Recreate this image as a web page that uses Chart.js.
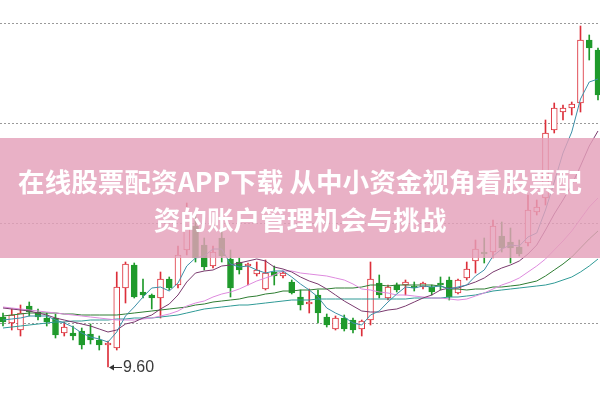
<!DOCTYPE html>
<html><head><meta charset="utf-8">
<script src="https://cdn.jsdelivr.net/npm/chart.js@4/dist/chart.umd.min.js"></script>
<style>
html,body{margin:0;padding:0;background:#fff;}
#wrap{position:relative;width:600px;height:399px;overflow:hidden;}
#banner{position:absolute;left:0;top:138px;width:600px;height:120px;background:rgba(228,160,186,0.82);
 display:flex;align-items:center;justify-content:center;text-align:center;color:#fff;
 font-family:"Noto Sans CJK SC","Noto Sans",sans-serif;font-weight:bold;font-size:26.6px;line-height:38px;white-space:nowrap;padding-top:4px;box-sizing:border-box;}
</style></head><body>
<div id="wrap"><canvas id="c"></canvas>
<div id="banner"><div>在线股票配资APP下载 从中小资金视角看股票配<br>资的账户管理机会与挑战</div></div></div>
<script>
const open = [10.10,10.04,9.97,10.21,10.15,10.09,10.09,9.94,9.94,9.96, 9.93,9.87,9.82,9.79,10.39,10.62,10.35,10.32,10.29,10.48, 10.42,10.77,11.01,10.82,10.61,10.89,10.68,10.65,10.61,10.53, 10.38,10.55,10.51,10.45,10.30,10.23,10.32,10.10,9.98,10.09, 10.07,9.98,10.07,10.44,10.29,10.42,10.42,10.41,10.40,10.40, 10.44,10.47,10.34,10.49,10.66,10.75,10.75,10.91,10.85,10.80, 10.84,11.15,11.29,11.97,12.15,12.19,12.24,12.87,12.77];
const close = [10.05,10.12,10.14,10.15,10.10,10.05,9.92,10.00,9.91,9.82, 9.87,9.82,9.84,10.40,10.63,10.30,10.32,10.29,10.48,10.39, 10.72,11.15,10.69,10.60,10.75,10.71,10.39,10.57,10.63,10.57, 10.54,10.51,10.54,10.34,10.22,10.25,10.14,10.02,10.09,9.98, 9.97,10.06,10.48,10.32,10.40,10.37,10.45,10.39,10.44,10.35, 10.42,10.30,10.47,10.58,10.78,10.73,11.01,10.79,10.79,10.73, 11.17,11.20,11.94,12.19,12.19,12.23,12.87,12.79,12.32];
const high = [10.14,10.18,10.22,10.25,10.18,10.14,10.13,10.05,10.01,9.99, 10.03,9.91,9.86,10.55,10.65,10.64,10.48,10.33,10.55,10.50, 10.81,11.24,11.17,10.89,10.81,10.97,10.77,10.69,10.64,10.65, 10.67,10.61,10.56,10.47,10.37,10.38,10.37,10.13,10.11,10.12, 10.09,10.07,10.65,10.52,10.42,10.44,10.47,10.45,10.45,10.42, 10.50,10.50,10.48,10.65,10.87,10.89,11.07,11.05,10.99,10.87, 11.32,11.27,12.07,12.24,12.22,12.25,13.01,12.92,12.79];
const low = [10.01,9.97,9.91,10.11,10.07,10.01,9.89,9.91,9.87,9.78, 9.83,9.77,9.60,9.77,10.24,10.29,10.29,10.18,10.09,10.37, 10.39,10.72,10.65,10.57,10.59,10.65,10.30,10.53,10.42,10.51, 10.37,10.42,10.49,10.33,10.17,10.14,10.04,10.00,9.97,9.96, 9.94,9.91,10.02,10.29,10.27,10.35,10.32,10.36,10.38,10.32, 10.37,10.27,10.33,10.47,10.54,10.64,10.69,10.75,10.64,10.71, 10.81,11.12,11.22,11.94,12.07,12.12,12.15,12.67,12.27];
const ma5 = [10.07,10.08,10.09,10.11,10.11,10.11,10.07,10.04,10.00,9.94, 9.90,9.88,9.85,9.95,10.11,10.20,10.30,10.39,10.40,10.36, 10.44,10.61,10.69,10.71,10.78,10.78,10.63,10.60,10.61,10.57, 10.54,10.56,10.56,10.50,10.43,10.37,10.30,10.19,10.14,10.10, 10.04,10.02,10.12,10.16,10.25,10.33,10.40,10.39,10.41,10.40, 10.41,10.38,10.40,10.42,10.51,10.57,10.71,10.78,10.82,10.81, 10.90,10.94,11.17,11.45,11.74,11.95,12.28,12.45,12.48];
const ma10 = [10.19,10.18,10.17,10.16,10.14,10.12,10.09,10.07,10.05,10.03, 10.01,9.98,9.95,9.97,10.03,10.05,10.09,10.12,10.18,10.23, 10.32,10.45,10.54,10.56,10.57,10.61,10.62,10.64,10.66,10.68, 10.66,10.60,10.58,10.55,10.50,10.46,10.43,10.38,10.32,10.26, 10.21,10.16,10.15,10.15,10.17,10.18,10.21,10.25,10.29,10.32, 10.37,10.39,10.39,10.42,10.45,10.49,10.55,10.59,10.62,10.66, 10.73,10.82,10.97,11.13,11.27,11.42,11.61,11.81,11.96];
const ma20 = [10.20,10.19,10.18,10.17,10.16,10.15,10.14,10.13,10.12,10.11, 10.10,10.09,10.08,10.07,10.07,10.07,10.08,10.09,10.11,10.13, 10.16,10.21,10.24,10.26,10.30,10.33,10.35,10.38,10.42,10.46, 10.49,10.52,10.56,10.56,10.54,10.53,10.52,10.51,10.49,10.47, 10.43,10.38,10.37,10.35,10.34,10.32,10.32,10.31,10.30,10.29, 10.29,10.28,10.27,10.28,10.31,10.34,10.38,10.42,10.45,10.49, 10.55,10.61,10.68,10.77,10.86,10.96,11.08,11.20,11.29];
const ma30 = [10.11,10.12,10.13,10.14,10.14,10.14,10.14,10.13,10.13,10.12, 10.12,10.12,10.12,10.12,10.13,10.14,10.15,10.16,10.17,10.18, 10.19,10.20,10.22,10.23,10.25,10.26,10.27,10.28,10.30,10.31, 10.33,10.34,10.36,10.36,10.37,10.37,10.38,10.38,10.39,10.39, 10.39,10.40,10.42,10.42,10.41,10.42,10.42,10.42,10.42,10.42, 10.41,10.38,10.38,10.37,10.38,10.38,10.40,10.40,10.41,10.42, 10.44,10.46,10.51,10.57,10.63,10.70,10.79,10.88,10.96];
const ma60 = [9.99,10.00,10.01,10.02,10.03,10.04,10.05,10.05,10.06,10.06, 10.07,10.07,10.07,10.08,10.08,10.09,10.09,10.09,10.10,10.11, 10.12,10.14,10.16,10.18,10.19,10.20,10.21,10.22,10.22,10.23, 10.24,10.25,10.26,10.27,10.27,10.27,10.28,10.28,10.28,10.28, 10.28,10.28,10.28,10.28,10.28,10.28,10.28,10.29,10.29,10.29, 10.29,10.30,10.30,10.31,10.32,10.34,10.36,10.37,10.38,10.39, 10.40,10.41,10.42,10.44,10.47,10.50,10.55,10.61,10.68];
const gridValues = [10.04, 11.04, 12.04, 13.04];

const idx = open.map((_, i) => i);
const isUp = i => close[i] >= open[i];
const RED = '#dc2f3a', GREEN = '#1f9a2b';

function maSet(label, arr, color) {
  return { type: 'line', label, data: idx.map(i => ({ x: i, y: arr[i] })), borderColor: color,
    borderWidth: 1, pointRadius: 0, tension: 0, fill: false, order: 0 };
}

const lowLabelPlugin = {
  id: 'lowLabel',
  afterDatasetsDraw(chart) {
    const xs = chart.scales.x, ys = chart.scales.y;
    let mi = 0; low.forEach((v, i) => { if (v < low[mi]) mi = i; });
    const px = Math.round(xs.getPixelForValue(mi)), py = Math.round(ys.getPixelForValue(low[mi]));
    const ctx = chart.ctx; ctx.save();
    ctx.strokeStyle = '#333'; ctx.fillStyle = '#333'; ctx.lineWidth = 1;
    ctx.beginPath(); ctx.moveTo(px + 3, py + 0.5); ctx.lineTo(px + 14, py + 0.5); ctx.stroke();
    ctx.beginPath(); ctx.moveTo(px + 1, py + 0.5); ctx.lineTo(px + 6, py - 2.5); ctx.lineTo(px + 6, py + 3.5); ctx.closePath(); ctx.fill();
    ctx.fillStyle = '#3a3a3a';
    ctx.font = '16px "Liberation Sans", Arial, sans-serif'; ctx.textBaseline = 'middle';
    ctx.fillText(low[mi].toFixed(2), px + 15, py + 1);
    ctx.restore();
  }
};

new Chart(document.getElementById('c'), {
  data: { datasets: [
    maSet('MA5', ma5, '#3c8fa8'),
    maSet('MA10', ma10, '#7a3a6e'),
    maSet('MA20', ma20, '#de8ade'),
    maSet('MA30', ma30, '#2e7d32'),
    maSet('MA60', ma60, '#2f9a96'),
    { type: 'bar', label: 'body', data: idx.map(i => ({ x: i, y: [open[i], close[i]] })),
      backgroundColor: idx.map(i => isUp(i) ? '#ffffff' : GREEN),
      borderColor: idx.map(i => isUp(i) ? RED : GREEN),
      borderWidth: 1, borderSkipped: false, barThickness: 6, grouped: false, minBarLength: 2, order: 1 },
    { type: 'bar', label: 'wick', data: idx.map(i => ({ x: i, y: [low[i], high[i]] })),
      backgroundColor: idx.map(i => isUp(i) ? RED : GREEN),
      barThickness: 1, grouped: false, order: 2 }
  ] },
  options: {
    responsive: true, maintainAspectRatio: false, animation: false,
    layout: { padding: 0 },
    plugins: { legend: { display: false }, tooltip: { enabled: false } },
    scales: {
      x: { type: 'linear', min: -0.343, max: 68.23, offset: false, display: false },
      y: { min: 9.28, max: 13.27,
        afterBuildTicks: ax => { ax.ticks = gridValues.map(v => ({ value: v })); },
        ticks: { display: false },
        grid: { color: '#9a9a9a', drawTicks: false, lineWidth: 1 },
        border: { display: false, dash: [2, 2] } }
    }
  },
  plugins: [lowLabelPlugin]
});
</script>
</body></html>
